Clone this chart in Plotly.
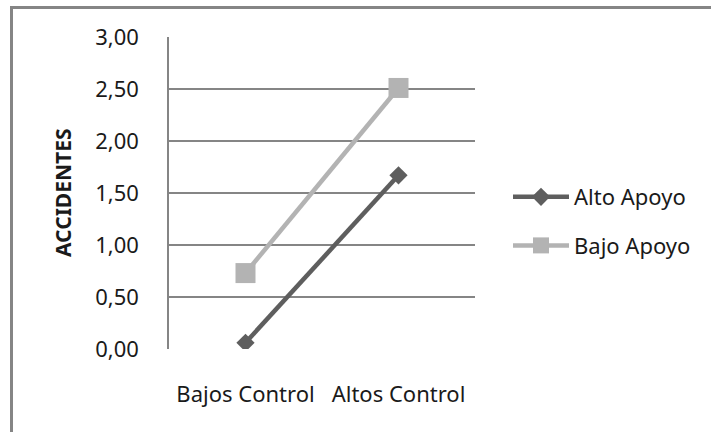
import plotly.graph_objects as go

categories = ["Bajos Control", "Altos Control"]
alto_apoyo = [0.06, 1.67]
bajo_apoyo = [0.73, 2.51]
y_ticks = [0, 0.5, 1.0, 1.5, 2.0, 2.5, 3.0]
y_tick_labels = ["0,00", "0,50", "1,00", "1,50", "2,00", "2,50", "3,00"]

W, H = 711, 432
L, R, T, B = 169, 236, 37, 83
pw, ph = W - L - R, H - T - B

def px_x(p):
    return (p - L) / pw

def px_y(p):
    return (H - B - p) / ph

FONT = "Noto Sans"
FS = 22

fig = go.Figure()
fig.add_trace(go.Scatter(
    x=categories, y=alto_apoyo, name="Alto Apoyo", mode="lines+markers",
    line=dict(color="#5e5e5e", width=4.5),
    marker=dict(symbol="diamond", size=14, color="#5e5e5e"),
    legendgroup="a",
))
fig.add_trace(go.Scatter(
    x=categories, y=bajo_apoyo, name="Bajo Apoyo", mode="lines+markers",
    line=dict(color="#b3b3b3", width=4.5),
    marker=dict(symbol="square", size=20, color="#b3b3b3"),
    legendgroup="b",
))

fig.update_layout(
    width=W, height=H,
    margin=dict(l=L, r=R, t=T, b=B),
    paper_bgcolor="white", plot_bgcolor="white",
    font=dict(family=FONT, size=FS, color="#1a1a1a"),
    showlegend=True,
    legend=dict(
        x=px_x(508), y=px_y(176), xanchor="left", yanchor="top",
        font=dict(family=FONT, size=FS, color="#1a1a1a"),
        tracegroupgap=17, bgcolor="rgba(0,0,0,0)", itemwidth=56,
    ),
    xaxis=dict(
        range=[-0.5, 1.5], showgrid=False, zeroline=False,
        showline=False, ticks="outside", ticklen=26,
        tickcolor="rgba(0,0,0,0)",
        tickfont=dict(family=FONT, size=FS, color="#1a1a1a"),
    ),
    yaxis=dict(
        range=[0, 3], tickvals=y_ticks, ticktext=y_tick_labels,
        showgrid=True, gridcolor="#858585", gridwidth=1.5,
        zeroline=False, showline=True, linecolor="#858585", linewidth=1.5,
        ticks="outside", ticklen=24, tickcolor="rgba(0,0,0,0)",
        tickfont=dict(family=FONT, size=FS, color="#1a1a1a"),
    ),
    shapes=[dict(
        type="rect", xref="paper", yref="paper",
        x0=px_x(11.5), x1=px_x(740), y0=px_y(460), y1=px_y(7.5),
        line=dict(color="#858585", width=3), fillcolor="rgba(0,0,0,0)",
        layer="below",
    )],
    annotations=[dict(
        text="<b>ACCIDENTES</b>", textangle=-90, xref="paper", yref="paper",
        x=px_x(63), y=0.5, xanchor="center", yanchor="middle", showarrow=False,
        font=dict(family=FONT, size=21, color="#1a1a1a"),
    )],
)

fig.write_html("out.html")
